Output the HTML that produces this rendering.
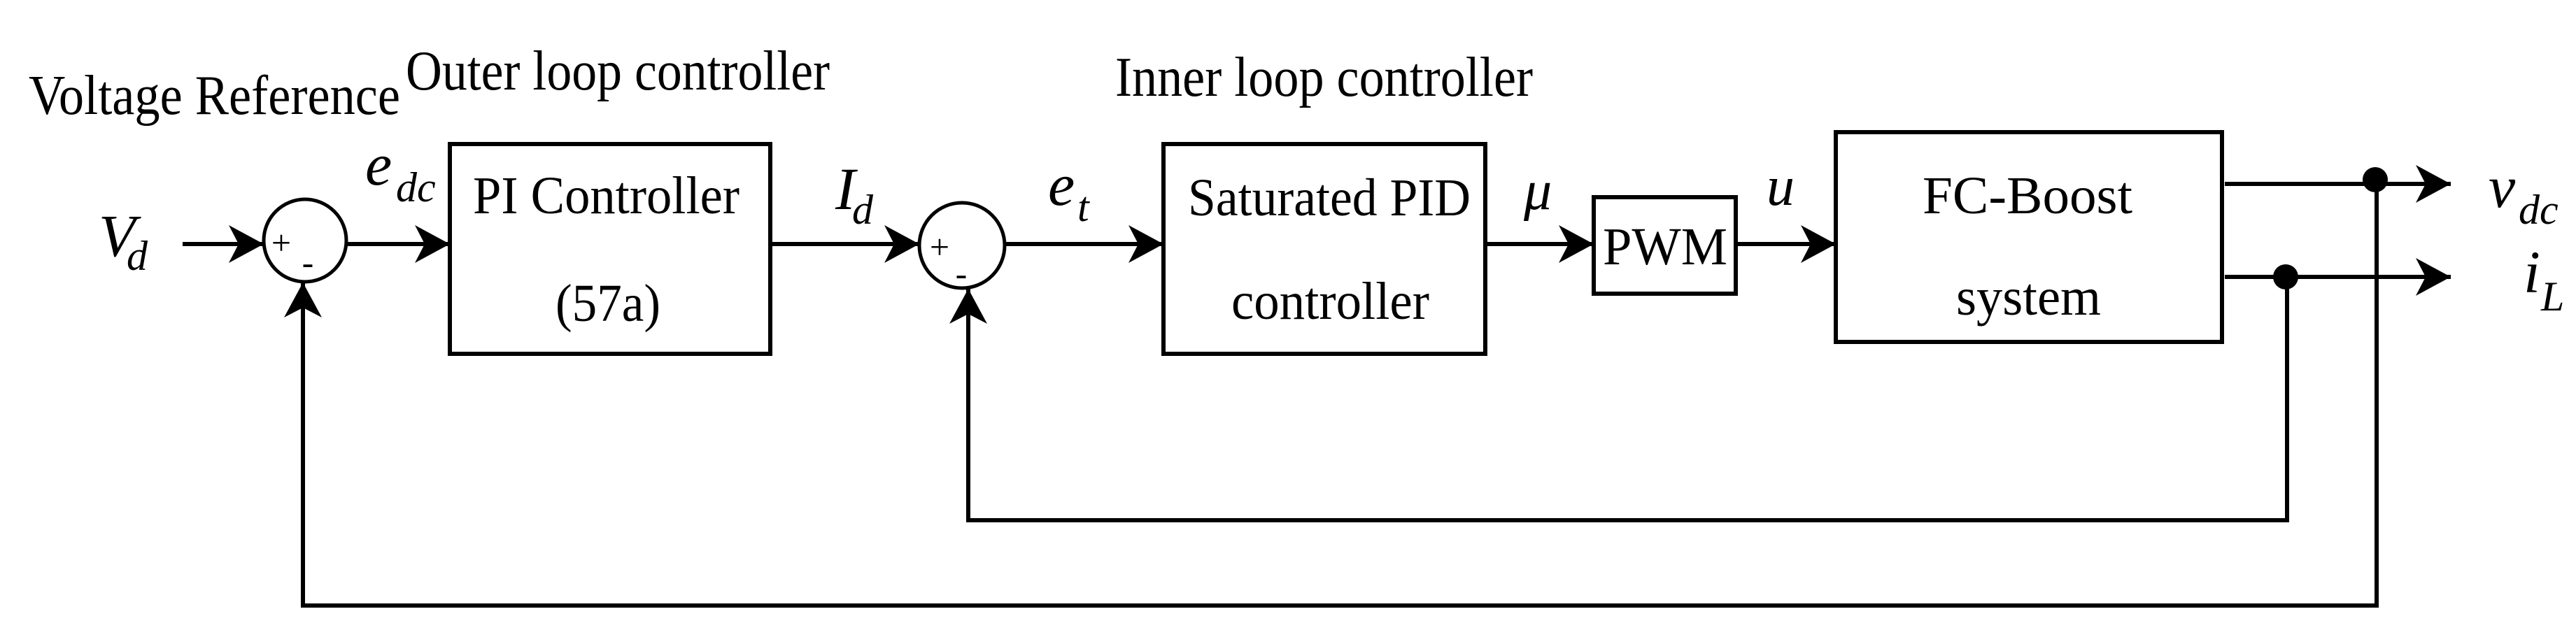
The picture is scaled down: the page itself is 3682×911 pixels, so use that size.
<!DOCTYPE html>
<html><head><meta charset="utf-8"><style>html,body{margin:0;padding:0;background:#fff}svg{display:block}svg text{font-family:"Liberation Serif","Times New Roman",serif}</style></head>
<body>
<svg width="3682" height="911" viewBox="0 0 3682 911" xmlns="http://www.w3.org/2000/svg" fill="#000">
<defs>
<marker id="a" markerUnits="userSpaceOnUse" markerWidth="60" markerHeight="60" refX="50" refY="27" orient="auto">
<path d="M50,27 L0,0 L14,27 L0,54 Z" fill="#000"/>
</marker>
</defs>
<g stroke="#000" stroke-width="6" fill="none">
<rect x="643" y="206" width="458" height="300"/>
<rect x="1663" y="206" width="460" height="300"/>
<rect x="2278" y="282" width="203" height="138"/>
<rect x="2624" y="189" width="552" height="300"/>
<ellipse cx="436" cy="344" rx="59" ry="59" stroke-width="5"/>
<ellipse cx="1375" cy="351" rx="61" ry="61" stroke-width="5"/>
<line x1="261" y1="349" x2="377" y2="349" marker-end="url(#a)"/>
<line x1="496" y1="349" x2="643" y2="349" marker-end="url(#a)"/>
<line x1="1101" y1="349" x2="1314" y2="349" marker-end="url(#a)"/>
<line x1="1436" y1="349" x2="1663" y2="349" marker-end="url(#a)"/>
<line x1="2123" y1="349" x2="2278" y2="349" marker-end="url(#a)"/>
<line x1="2481" y1="349" x2="2624" y2="349" marker-end="url(#a)"/>
<line x1="3180" y1="263" x2="3503" y2="263" marker-end="url(#a)"/>
<line x1="3180" y1="396" x2="3503" y2="396" marker-end="url(#a)"/>
<polyline points="3397,263 3397,866 433,866 433,404" marker-end="url(#a)"/>
<polyline points="3269,396 3269,744 1384,744 1384,413" marker-end="url(#a)"/>
</g>
<ellipse cx="3395" cy="257" rx="18" ry="18"/>
<ellipse cx="3267" cy="396" rx="18" ry="18"/>
<text x="41" y="163" font-size="80" textLength="531" lengthAdjust="spacingAndGlyphs">Voltage Reference</text>
<text x="580" y="128" font-size="80" textLength="606" lengthAdjust="spacingAndGlyphs">Outer loop controller</text>
<text x="1594" y="137" font-size="80" textLength="597" lengthAdjust="spacingAndGlyphs">Inner loop controller</text>
<text x="676" y="305" font-size="76" textLength="381" lengthAdjust="spacingAndGlyphs">PI Controller</text>
<text x="794" y="459" font-size="76" textLength="150" lengthAdjust="spacingAndGlyphs">(57a)</text>
<text x="1698" y="308" font-size="76" textLength="404" lengthAdjust="spacingAndGlyphs">Saturated PID</text>
<text x="1760" y="456" font-size="76" textLength="283" lengthAdjust="spacingAndGlyphs">controller</text>
<text x="2291" y="378" font-size="76" textLength="178" lengthAdjust="spacingAndGlyphs">PWM</text>
<text x="2748" y="305" font-size="76" textLength="300" lengthAdjust="spacingAndGlyphs">FC-Boost</text>
<text x="2796" y="450" font-size="76" textLength="207" lengthAdjust="spacingAndGlyphs">system</text>
<text x="402" y="364" font-size="50" text-anchor="middle">+</text>
<text x="440" y="392" font-size="50" text-anchor="middle">-</text>
<text x="1343" y="370" font-size="50" text-anchor="middle">+</text>
<text x="1374" y="408" font-size="50" text-anchor="middle">-</text>
<g font-style="italic">
<text x="141" y="366" font-size="86">V</text><text x="181" y="386" font-size="60">d</text>
<text x="522" y="264" font-size="86">e</text><text x="566" y="288" font-size="60">dc</text>
<text x="1194" y="299" font-size="86">I</text><text x="1218" y="320" font-size="60">d</text>
<text x="1498" y="293" font-size="86">e</text><text x="1540" y="316" font-size="60">t</text>
<text x="2178" y="299" font-size="80">μ</text>
<text x="2525" y="293" font-size="80">u</text>
<text x="3557" y="296" font-size="86">v</text><text x="3600" y="320" font-size="60">dc</text>
<text x="3607" y="418" font-size="86">i</text><text x="3632" y="444" font-size="60">L</text>
</g>
</svg>
</body></html>
